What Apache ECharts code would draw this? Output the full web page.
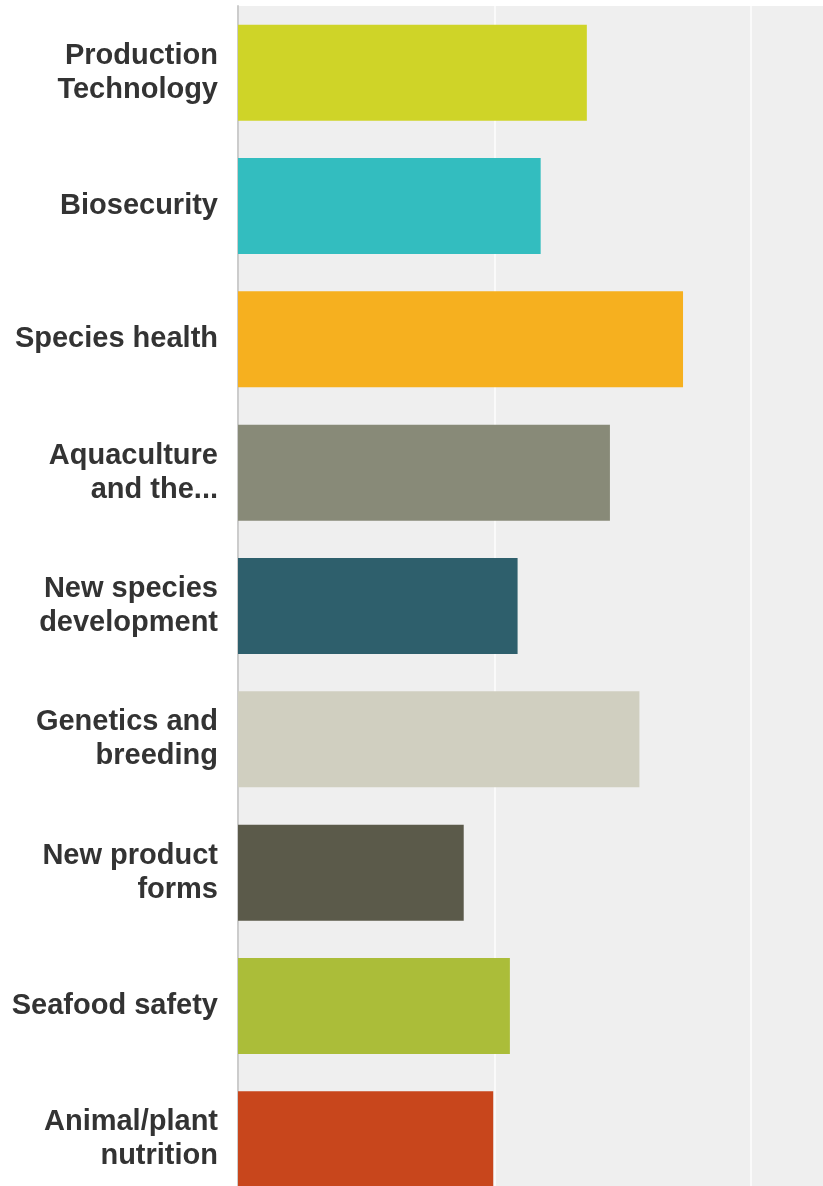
<!DOCTYPE html>
<html>
<head>
<meta charset="utf-8">
<script src="https://cdn.jsdelivr.net/npm/echarts@6/dist/echarts.min.js"></script>
<style>
  html, body { margin: 0; padding: 0; background: #ffffff; }
  #chart { width: 823px; height: 1186px; }
</style>
</head>
<body>
<div id="chart"></div>
<script>
// Categories (top to bottom)
const categories = [
  'Production\nTechnology',
  'Biosecurity',
  'Species health',
  'Aquaculture\nand the...',
  'New species\ndevelopment',
  'Genetics and\nbreeding',
  'New product\nforms',
  'Seafood safety',
  'Animal/plant\nnutrition'
];

// Values (percent)
const values = [27.2, 23.6, 34.7, 29.0, 21.8, 31.3, 17.6, 21.2, 19.9];

// Bar colours, one per category
const barColors = [
  '#cfd428', '#33bdbf', '#f6b01f', '#888a78', '#2e5f6c',
  '#d0cfc0', '#5b5a4a', '#abbd39', '#c8461c'
];

const chart = echarts.init(document.getElementById('chart'), null, { renderer: 'canvas' });

chart.setOption({
  animation: false,
  backgroundColor: '#ffffff',
  grid: {
    show: true,
    backgroundColor: '#efefef',
    borderWidth: 0,
    outerBoundsMode: 'none',
    containLabel: false,
    left: 238,
    top: 6,
    width: 769.5,
    height: 1200
  },
  xAxis: {
    type: 'value',
    min: 0,
    max: 60,
    interval: 20,
    axisLine: { show: false },
    axisTick: { show: false },
    axisLabel: { show: false },
    splitLine: { show: true, lineStyle: { color: '#fafafa', width: 2 } }
  },
  yAxis: {
    type: 'category',
    inverse: true,
    data: categories,
    axisLine: { show: true, lineStyle: { color: '#cccccc', width: 2 } },
    axisTick: { show: false },
    axisLabel: {
      margin: 20,
      color: '#333333',
      fontFamily: 'Liberation Sans, Arial, sans-serif',
      fontWeight: 'bold',
      fontSize: 29,
      lineHeight: 34,
      align: 'right',
      padding: [6, 0, 0, 0]
    },
    splitLine: { show: false }
  },
  series: [{
    type: 'bar',
    barWidth: 96,
    data: values.map((v, i) => ({ value: v, itemStyle: { color: barColors[i] } })),
    label: { show: false }
  }]
});
</script>
</body>
</html>
